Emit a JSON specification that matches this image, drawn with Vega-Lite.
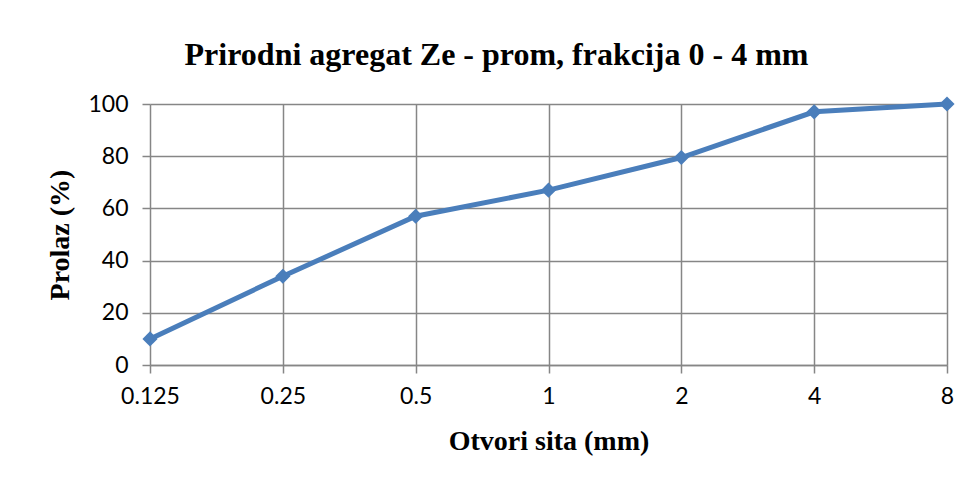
{
  "$schema": "https://vega.github.io/schema/vega-lite/v6.json",
  "width": 797,
  "height": 261,
  "autosize": {"type": "none"},
  "padding": {"left": 150, "top": 104, "right": 21, "bottom": 116},
  "background": "white",
  "title": {
    "text": "Prirodni agregat Ze - prom, frakcija 0 - 4 mm",
    "font": "Liberation Serif",
    "fontSize": 32,
    "fontWeight": "bold",
    "color": "black",
    "anchor": "middle",
    "dx": -52,
    "offset": 21
  },
  "data": {
    "values": [
      {"sieve": 0.125, "pass": 10},
      {"sieve": 0.25, "pass": 34},
      {"sieve": 0.5, "pass": 57},
      {"sieve": 1, "pass": 67},
      {"sieve": 2, "pass": 79.5},
      {"sieve": 4, "pass": 97},
      {"sieve": 8, "pass": 100}
    ]
  },
  "config": {
    "view": {"stroke": null},
    "axis": {
      "gridColor": "#868686",
      "gridOpacity": 1,
      "gridWidth": 1.5,
      "domainColor": "#868686",
      "domainWidth": 1.5,
      "tickColor": "#868686",
      "tickWidth": 1.5,
      "tickSize": 8,
      "labelFont": "Lato",
      "labelFontSize": 23,
      "labelColor": "black",
      "titleFont": "Liberation Serif",
      "titleFontSize": 28,
      "titleFontWeight": "bold",
      "titleColor": "black"
    }
  },
  "encoding": {
    "x": {
      "field": "sieve",
      "type": "quantitative",
      "scale": {"type": "log", "base": 2, "domain": [0.125, 8], "nice": false},
      "axis": {
        "values": [0.125, 0.25, 0.5, 1, 2, 4, 8],
        "labelExpr": "datum.value + ''",
        "title": "Otvori sita (mm)",
        "labelPadding": 12,
        "titlePadding": 19,
        "labelFlush": false
      }
    },
    "y": {
      "field": "pass",
      "type": "quantitative",
      "scale": {"domain": [0, 100], "nice": false},
      "axis": {
        "values": [0, 20, 40, 60, 80, 100],
        "title": "Prolaz  (%)",
        "labelPadding": 14,
        "titlePadding": 13,
        "domain": false
      }
    }
  },
  "layer": [
    {
      "mark": {"type": "line", "color": "#4A7EBB", "strokeWidth": 5},
      "encoding": {}
    },
    {
      "mark": {"type": "point", "shape": "diamond", "filled": true, "color": "#4A7EBB", "size": 230, "opacity": 1},
      "encoding": {}
    }
  ]
}
